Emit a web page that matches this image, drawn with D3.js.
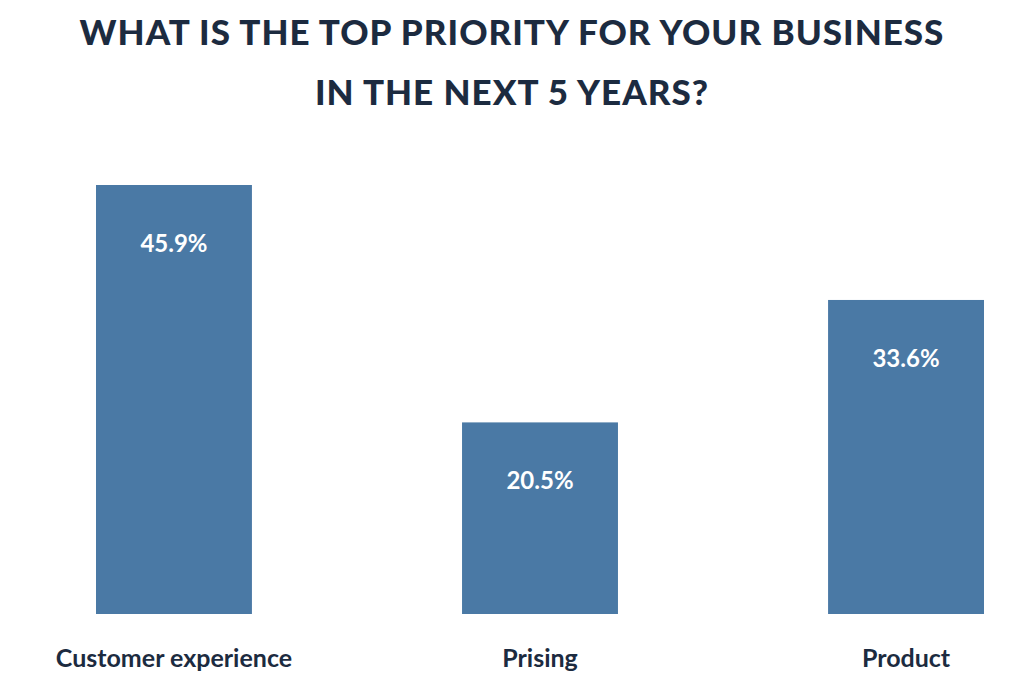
<!DOCTYPE html>
<html>
<head>
<meta charset="utf-8">
<script src="https://cdn.jsdelivr.net/npm/d3@7"></script>
<style>
  body { margin: 0; background: #fff; }
  text { font-family: Lato, "Open Sans", sans-serif; }
</style>
</head>
<body>
<div id="chart"></div>
<script>
const categories = ["Customer experience", "Prising", "Product"]
const values = [45.9, 20.5, 33.6]
const titleLines = ["WHAT IS THE TOP PRIORITY FOR YOUR BUSINESS", "IN THE NEXT 5 YEARS?"]

const WIDTH = 1024
const HEIGHT = 680
const BASE = 614

const svg = d3.select("#chart").append("svg")
    .attr("width", WIDTH)
    .attr("height", HEIGHT)

let x = d3.scaleBand()
    .domain(categories)
    .range([96, 984])
    .paddingInner(0.574)
    .paddingOuter(0)

let y = d3.scaleLinear()
    .domain([0, 45.9])
    .range([BASE, 185])

const data = categories.map((c, i) => ({ name: c, value: values[i] }))

svg.selectAll("text.title")
    .data(titleLines)
    .join("text")
    .attr("class", "title")
    .attr("x", WIDTH / 2)
    .attr("y", (d, i) => 45 + i * 60)
    .attr("text-anchor", "middle")
    .attr("fill", "#1c2b40")
    .attr("font-size", 35)
    .attr("font-weight", 900)
    .attr("letter-spacing", 1)
    .text(d => d)

svg.selectAll("rect.bar")
    .data(data)
    .join("rect")
    .attr("class", "bar")
    .attr("x", d => x(d.name))
    .attr("y", d => y(d.value))
    .attr("width", x.bandwidth())
    .attr("height", d => BASE - y(d.value))
    .attr("fill", "#4a79a5")

svg.selectAll("text.val")
    .data(data)
    .join("text")
    .attr("class", "val")
    .attr("x", d => x(d.name) + x.bandwidth() / 2)
    .attr("y", d => y(d.value) + 67)
    .attr("text-anchor", "middle")
    .attr("fill", "#fff")
    .attr("font-size", 24)
    .attr("font-weight", 700)
    .text(d => d.value.toFixed(1) + "%")

svg.selectAll("text.cat")
    .data(data)
    .join("text")
    .attr("class", "cat")
    .attr("x", d => x(d.name) + x.bandwidth() / 2)
    .attr("y", 667)
    .attr("text-anchor", "middle")
    .attr("fill", "#1c2b40")
    .attr("font-size", 25)
    .attr("font-weight", 700)
    .text(d => d.name)
</script>
</body>
</html>
